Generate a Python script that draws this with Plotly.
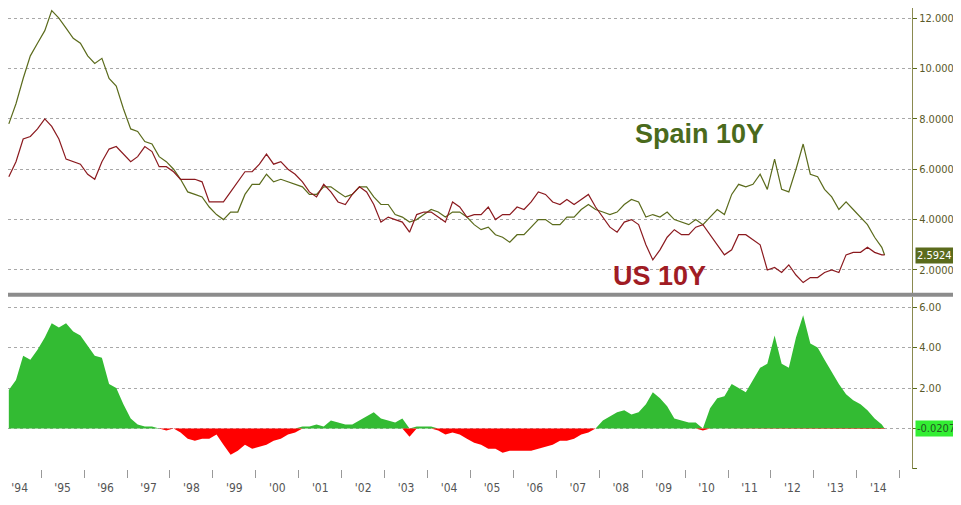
import numpy as np
import pandas as pd
import plotly.graph_objects as go
from plotly.subplots import make_subplots

# bimonthly samples from Apr 1994, plus the last print
dates = list(pd.date_range("1994-04-01", periods=123, freq="2MS")) + [pd.Timestamp("2014-08-25")]

spain_10y = [
    7.8, 8.6, 9.6, 10.5, 11.0, 11.5,
    12.3, 12.0, 11.6, 11.2, 11.0, 10.5,
    10.2, 10.4, 9.6, 9.3, 8.4, 7.6,
    7.5, 7.1, 7.0, 6.5, 6.3, 6.0,
    5.6, 5.1, 5.0, 4.9, 4.5, 4.2,
    4.0, 4.3, 4.3, 5.0, 5.4, 5.4,
    5.8, 5.5, 5.6, 5.5, 5.4, 5.3,
    5.0, 5.0, 5.3, 5.3, 5.1, 4.9,
    5.0, 5.3, 5.3, 4.9, 4.6, 4.6,
    4.2, 4.1, 3.9, 4.0, 4.2, 4.4,
    4.3, 4.1, 4.3, 4.3, 4.1, 3.8,
    3.6, 3.7, 3.4, 3.3, 3.1, 3.4,
    3.4, 3.7, 4.0, 4.0, 3.8, 3.8,
    4.1, 4.1, 4.4, 4.6, 4.4, 4.3,
    4.2, 4.3, 4.6, 4.8, 4.7, 4.1,
    4.2, 4.1, 4.3, 4.0, 3.9, 3.8,
    4.0, 3.8, 4.1, 4.4, 4.2, 5.0,
    5.4, 5.3, 5.4, 5.8, 5.2, 6.4,
    5.2, 5.1, 6.0, 7.0, 5.8, 5.7,
    5.2, 4.9, 4.4, 4.7, 4.4, 4.1,
    3.8, 3.3, 2.9, 2.5924,
]

us_10y = [
    5.7, 6.3, 7.2, 7.3, 7.6, 8.0,
    7.7, 7.2, 6.4, 6.3, 6.2, 5.8,
    5.6, 6.3, 6.8, 6.9, 6.6, 6.3,
    6.5, 6.9, 6.7, 6.1, 6.1, 5.9,
    5.6, 5.6, 5.6, 5.5, 4.7, 4.7,
    4.7, 5.1, 5.5, 5.9, 5.9, 6.2,
    6.6, 6.2, 6.3, 6.0, 5.8, 5.5,
    5.1, 4.9, 5.4, 5.1, 4.7, 4.6,
    5.0, 5.3, 5.1, 4.6, 3.9, 4.1,
    4.0, 3.9, 3.5, 4.2, 4.3, 4.3,
    4.1, 3.9, 4.7, 4.5, 4.1, 4.2,
    4.2, 4.5, 4.0, 4.2, 4.2, 4.5,
    4.4, 4.7, 5.1, 5.0, 4.7, 4.6,
    4.8, 4.6, 4.8, 5.0, 4.5, 4.1,
    3.7, 3.5, 3.9, 4.0, 3.8, 3.0,
    2.4, 2.8, 3.3, 3.6, 3.4, 3.4,
    3.7, 3.8, 3.4, 3.0, 2.6, 2.8,
    3.4, 3.4, 3.2, 3.0, 2.0, 2.1,
    1.9, 2.2, 1.8, 1.5, 1.7, 1.7,
    1.9, 2.0, 1.9, 2.6, 2.7, 2.7,
    2.9, 2.7, 2.6, 2.6,
]

spread = [
    1.9, 2.4, 3.6, 3.4, 3.9, 4.5,
    5.2, 5.0, 5.2, 4.8, 4.6, 4.1,
    3.6, 3.5, 2.2, 2.0, 1.2, 0.5,
    0.2, 0.1, 0.1, 0.0, -0.1, 0.0,
    -0.2, -0.5, -0.6, -0.5, -0.5, -0.3,
    -0.8, -1.3, -1.1, -0.8, -1.0, -0.9,
    -0.8, -0.6, -0.5, -0.3, -0.2, 0.1,
    0.1, 0.2, 0.1, 0.4, 0.3, 0.2,
    0.2, 0.4, 0.6, 0.8, 0.5, 0.4,
    0.3, 0.5, -0.4, 0.1, 0.1, 0.1,
    -0.1, -0.3, -0.2, -0.3, -0.5, -0.7,
    -0.8, -1.0, -1.0, -1.2, -1.1, -1.1,
    -1.1, -1.1, -1.0, -0.9, -0.8, -0.6,
    -0.6, -0.5, -0.3, -0.2, 0.0, 0.4,
    0.6, 0.8, 0.9, 0.7, 0.8, 1.2,
    1.8, 1.5, 1.1, 0.5, 0.4, 0.3,
    0.3, -0.1, 1.0, 1.5, 1.6, 2.2,
    2.0, 1.8, 2.4, 3.0, 3.2, 4.6,
    3.2, 3.0, 4.5, 5.6, 4.2, 4.0,
    3.4, 2.8, 2.2, 1.7, 1.4, 1.2,
    0.9, 0.5, 0.2, -0.0207,
]

OLIVE = "#5b6b1c"
RED = "#8b1a1f"
GRID = "#a8a8a8"
AXFONT = "DejaVu Sans Condensed, Liberation Sans Narrow"

fig = make_subplots(rows=2, cols=1, shared_xaxes=True, vertical_spacing=0.01)

fig.add_trace(go.Scatter(x=dates, y=spain_10y, mode="lines", line=dict(color=OLIVE, width=1.2)), row=1, col=1)
fig.add_trace(go.Scatter(x=dates, y=us_10y, mode="lines", line=dict(color=RED, width=1.2)), row=1, col=1)

sp = np.array(spread)
fig.add_trace(go.Scatter(x=dates, y=np.clip(sp, 0, None), mode="lines", fill="tozeroy",
                         line=dict(width=0, color="#33bb33"), fillcolor="#33bb33"), row=2, col=1)
fig.add_trace(go.Scatter(x=dates, y=np.clip(sp, None, 0), mode="lines", fill="tozeroy",
                         line=dict(width=0, color="#ff0000"), fillcolor="#ff0000"), row=2, col=1)

fig.update_xaxes(type="date", range=["1994-03-25", "2015-04-15"], dtick="M12", tick0="1994-01-01",
                 showgrid=False, minor=dict(dtick="M24", showgrid=True, griddash="dot", gridcolor=GRID),
                 showline=False, zeroline=False, automargin=False)
fig.update_xaxes(showticklabels=False, ticks="", row=1, col=1)
fig.update_xaxes(ticklabelmode="period", tickformat="'%y", ticks="outside", ticklen=8, tickcolor="#999",
                 tickfont=dict(family=AXFONT, size=12, color="#555"), row=2, col=1)

fig.update_yaxes(side="right", showgrid=True, griddash="dot", gridcolor=GRID, zeroline=False,
                 showline=True, linecolor="#8a8a50", ticks="outside", ticklen=4, tickcolor=OLIVE,
                 tickfont=dict(family=AXFONT, size=11, color="#5a5a2a"), automargin=False)
fig.update_yaxes(range=[1.09, 12.4], tickvals=[2, 4, 6, 8, 10, 12], tickformat=".4f", row=1, col=1)
fig.update_yaxes(range=[-2.0, 6.5], tickvals=[-2, 0, 2, 4, 6],
                 ticktext=["", "", "2.00", "4.00", "6.00"], row=2, col=1)

fig.update_layout(
    width=953, height=497, showlegend=False,
    paper_bgcolor="white", plot_bgcolor="white",
    margin=dict(l=0, r=49, t=0, b=36),
    yaxis=dict(domain=[0.382, 1.0]),
    yaxis2=dict(domain=[0.0, 0.373]),
    shapes=[dict(type="line", xref="paper", yref="paper", x0=0, x1=1.06, y0=0.378, y1=0.378,
                 line=dict(color="#8c8c8c", width=4))],
    annotations=[
        dict(text="<b>Spain 10Y</b>", x="2010-05-01", y=7.4, xref="x", yref="y", showarrow=False,
             font=dict(family="Liberation Sans", size=27, color="#4a6a1c")),
        dict(text="<b>US 10Y</b>", x="2009-06-01", y=1.75, xref="x", yref="y", showarrow=False,
             font=dict(family="Liberation Sans", size=27, color="#a01c24")),
        dict(text="2.5924", x=1.0, xanchor="left", y=spain_10y[-1], xref="paper", yref="y",
             showarrow=False, bgcolor="#5b6b1c", font=dict(family=AXFONT, size=11, color="white"),
             xshift=3),
        dict(text="-0.0207", x=1.0, xanchor="left", y=spread[-1], xref="paper", yref="y2",
             showarrow=False, bgcolor="#33ee33", font=dict(family=AXFONT, size=11, color="#225522"),
             xshift=3),
    ],
)

fig.write_html("out.html")
